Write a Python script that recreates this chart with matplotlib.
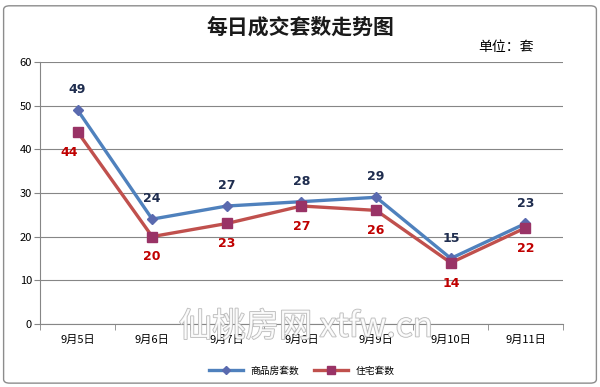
import matplotlib.pyplot as plt
import matplotlib.patheffects as pe
from matplotlib.patches import FancyBboxPatch

plt.rcParams['font.family'] = ['Noto Sans CJK SC', 'DejaVu Sans']

# data
dates = ["9月5日", "9月6日", "9月7日", "9月8日", "9月9日", "9月10日", "9月11日"]
commercial = [49, 24, 27, 28, 29, 15, 23]   # 商品房套数
housing = [44, 20, 23, 27, 26, 14, 22]      # 住宅套数
yticks = [0, 10, 20, 30, 40, 50, 60]

fig = plt.figure(figsize=(6, 3.87), dpi=100, facecolor="white")
ax = fig.add_axes([0.067, 0.163, 0.871, 0.677])

x = list(range(len(dates)))
ax.plot(x, commercial, color="#4F81BD", lw=2.4, marker="D", ms=5.5,
        mfc="#5A6AAF", mec="#5A6AAF", label="商品房套数", zorder=3)
ax.plot(x, housing, color="#C0504D", lw=2.4, marker="s", ms=7,
        mfc="#993366", mec="#993366", label="住宅套数", zorder=3)

for i, v in enumerate(commercial):
    ax.annotate(str(v), (i, v), xytext=(0, 10), textcoords="offset points",
                ha="center", va="bottom", fontsize=9, color="#1F2D4F",
                fontweight="bold", family="DejaVu Sans")
for i, v in enumerate(housing):
    dx = -6 if i == 0 else 0
    ax.annotate(str(v), (i, v), xytext=(dx, -10), textcoords="offset points",
                ha="center", va="top", fontsize=9, color="#C00000",
                fontweight="bold", family="DejaVu Sans")

ax.set_xlim(-0.5, len(dates) - 0.5)
ax.set_ylim(0, 60)
ax.set_yticks(yticks)
ax.set_yticklabels([str(t) for t in yticks], fontsize=8)
ax.set_xticks(x)
ax.set_xticklabels(dates, fontsize=8)
ax.set_xticks([i + 0.5 for i in range(-1, len(dates))], minor=True)
ax.tick_params(axis="x", which="major", length=0, pad=8)
ax.tick_params(axis="x", which="minor", length=4, color="#868686")
ax.tick_params(axis="y", length=4, color="#868686", pad=2)
ax.grid(axis="y", color="#868686", lw=0.8)
ax.set_axisbelow(True)
for side in ["top", "right"]:
    ax.spines[side].set_visible(False)
for side in ["left", "bottom"]:
    ax.spines[side].set_color("#868686")

fig.text(0.5, 0.93, "每日成交套数走势图", ha="center", va="center",
         fontsize=15, fontweight="bold", color="#1A1A1A")
fig.text(0.89, 0.878, "单位：套", ha="right", va="center", fontsize=10)

# watermark
fig.text(0.51, 0.155, "仙桃房网 xtfw.cn", ha="center", va="center", fontsize=24,
         color="white", alpha=0.85, zorder=5,
         path_effects=[pe.withStroke(linewidth=1.2, foreground="#B0B0B0")])

ax.legend(loc="center", bbox_to_anchor=(0.5, -0.178), ncol=2,
          frameon=False, fontsize=7, handlelength=3.5, columnspacing=1.5,
          markerscale=0.8)

fig.patches.append(FancyBboxPatch((0.006, 0.01), 0.988, 0.975,
                                  boxstyle="round,pad=0,rounding_size=0.01",
                                  transform=fig.transFigure, fill=False,
                                  ec="#8C8C8C", lw=1))

fig.savefig("out.png", dpi=100, facecolor="white")
